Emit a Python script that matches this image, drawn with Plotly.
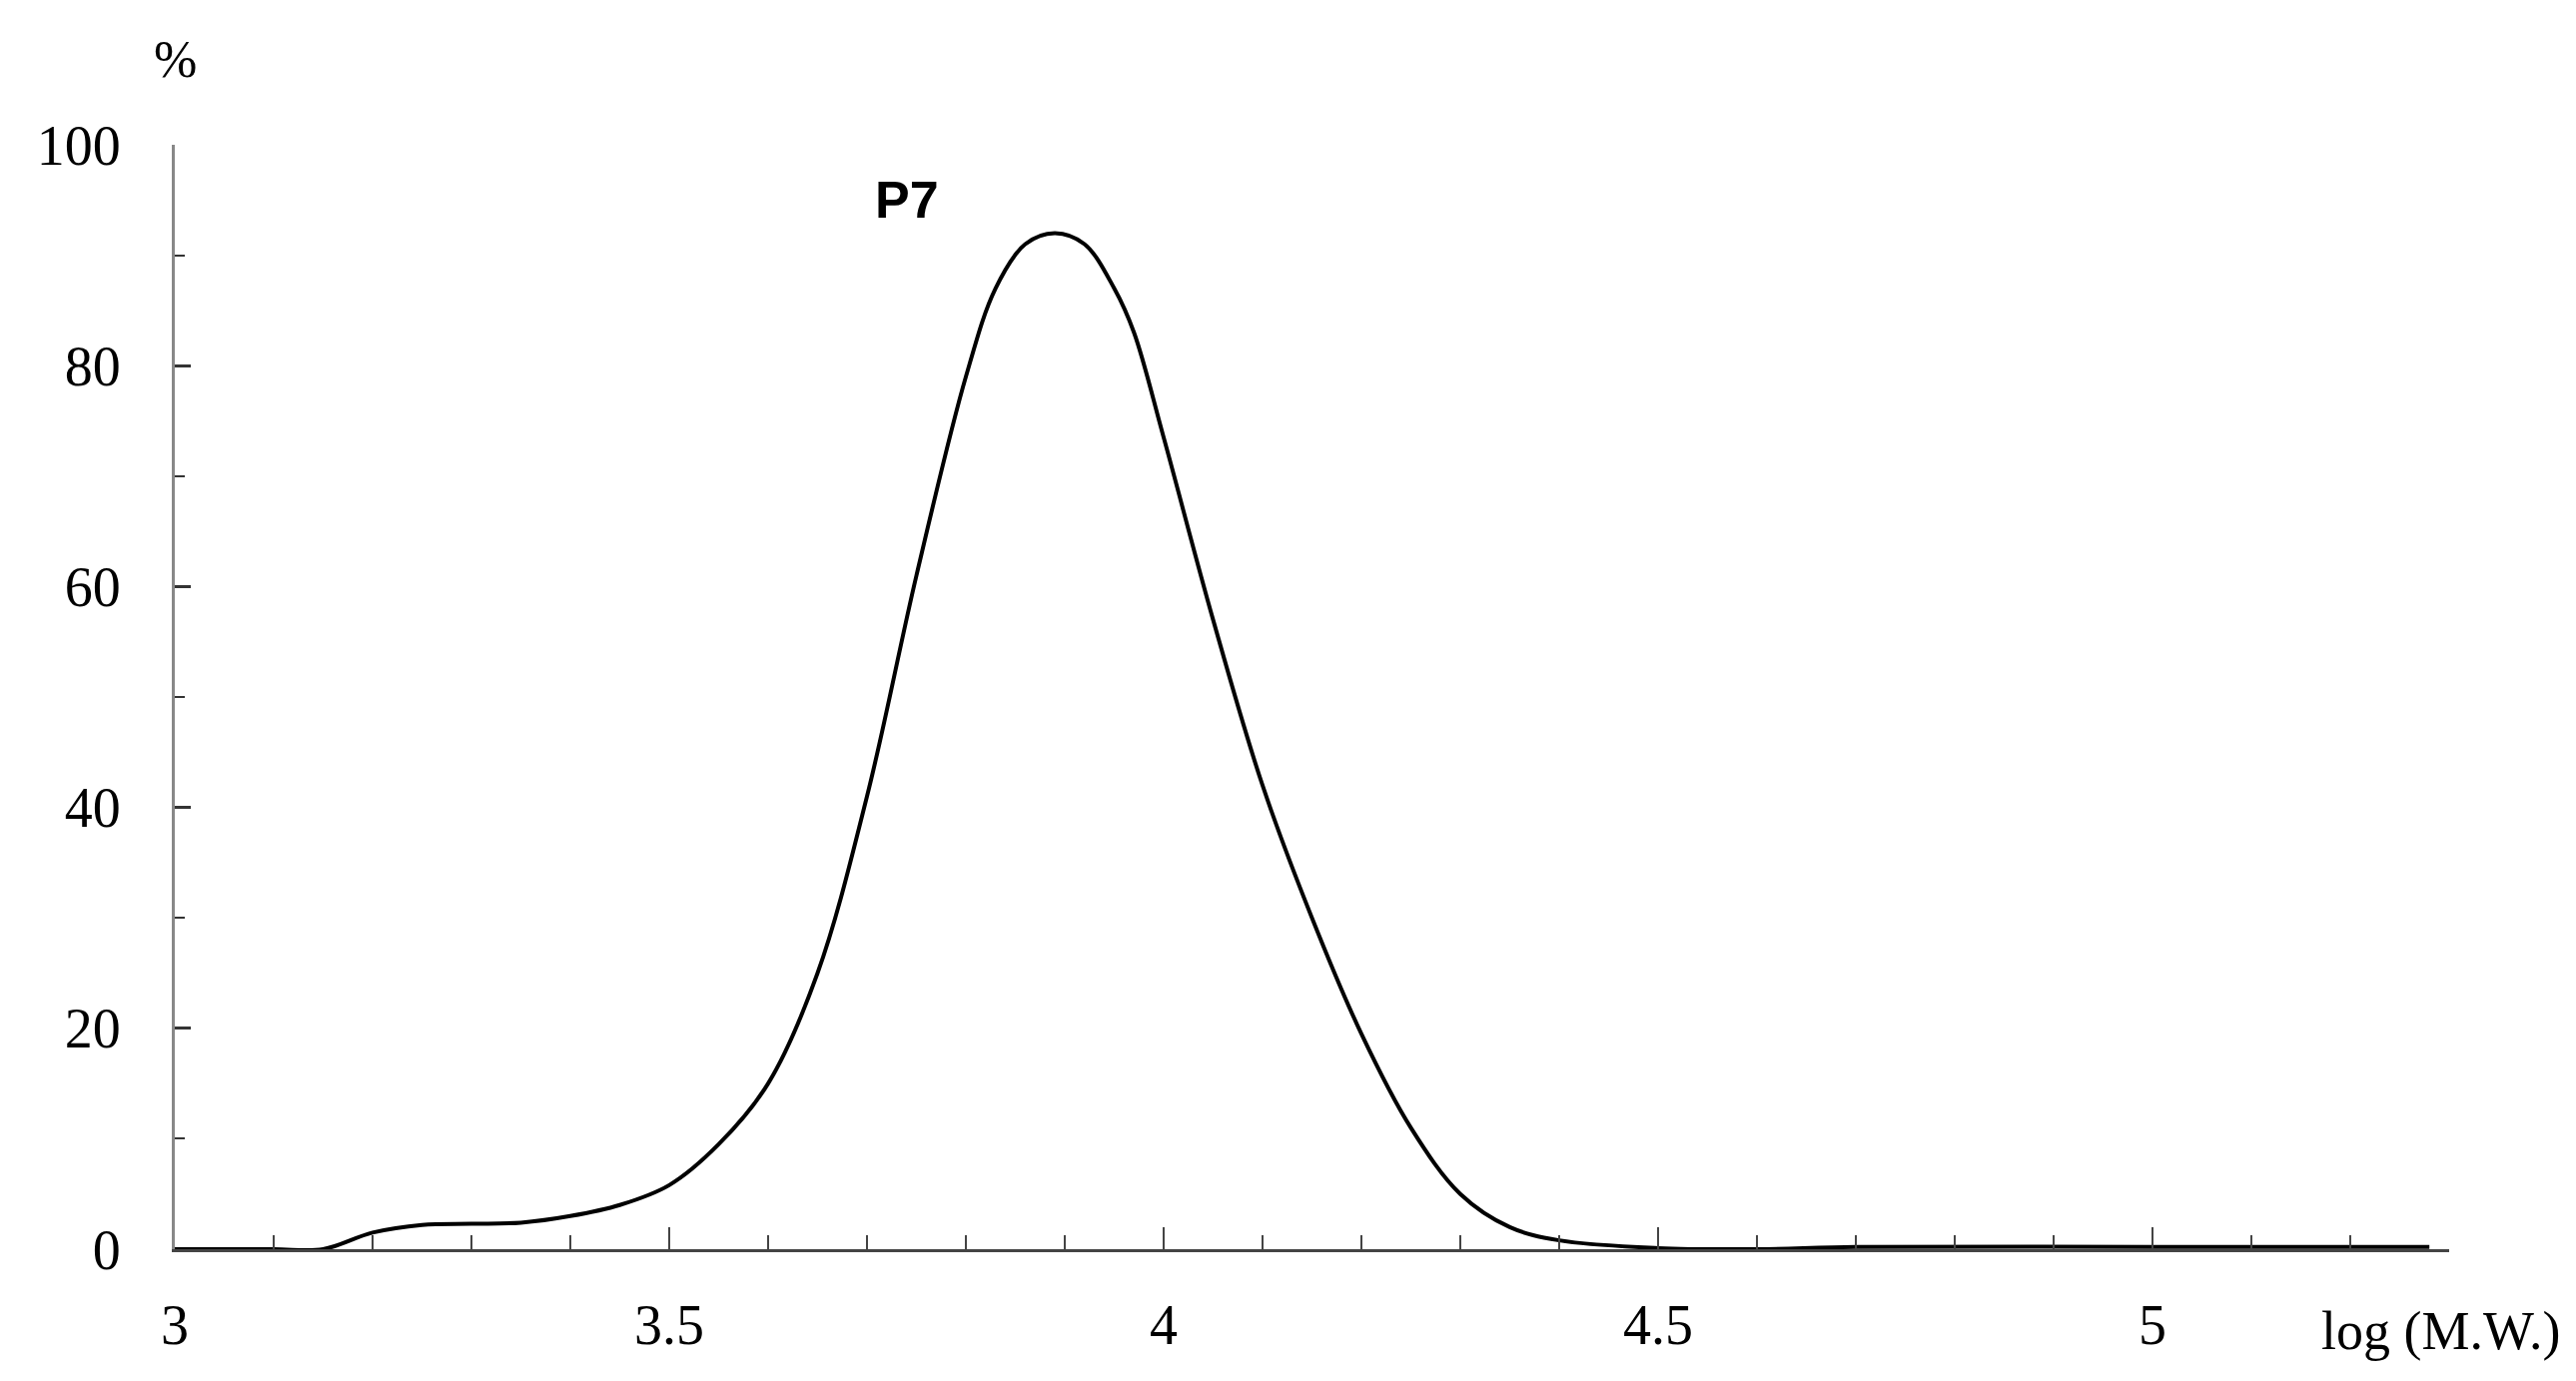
import plotly.graph_objects as go

# GPC molecular weight distribution, sample P7
log_mw = [3.0, 3.1, 3.15, 3.2, 3.25, 3.3, 3.35, 3.4, 3.45, 3.5, 3.55, 3.6, 3.65,
          3.7, 3.75, 3.8, 3.83, 3.86, 3.89, 3.92, 3.95, 3.97, 4.0, 4.05, 4.1, 4.15, 4.2,
          4.25, 4.3, 4.35, 4.4, 4.5, 4.6, 4.7, 5.0, 5.28]
pct = [0, 0, 0, 1.5, 2.2, 2.3, 2.4, 3.0, 4.0, 5.8, 9.5, 15, 25,
       41, 61, 79, 87, 91, 92, 91, 87, 83, 73.5, 57, 42, 30, 19.5,
       11, 5, 2, 0.8, 0.1, 0, 0.2, 0.2, 0.2]

FONT = "Liberation Serif"

fig = go.Figure()
fig.add_trace(go.Scatter(
    x=log_mw, y=pct, mode="lines",
    line=dict(color="black", width=4, shape="spline", smoothing=1.0),
    showlegend=False,
))

fig.add_annotation(x=3.74, y=95, text="<b>P7</b>", showarrow=False,
                   font=dict(family="Liberation Sans", size=52, color="black"))
fig.add_annotation(xref="paper", yref="paper", x=0.0, y=1.05, text="%",
                   showarrow=False, xanchor="center", yanchor="bottom",
                   font=dict(family=FONT, size=52, color="black"))
fig.add_annotation(xref="paper", yref="paper", x=1.05, y=-0.045, text="log (M.W.)",
                   showarrow=False, xanchor="right", yanchor="top",
                   font=dict(family=FONT, size=54, color="black"))

fig.update_layout(
    width=2579, height=1383,
    margin=dict(l=167, r=135, t=137, b=140),
    plot_bgcolor="white", paper_bgcolor="white",
    xaxis=dict(
        range=[3, 5.3], tickvals=[3, 3.5, 4, 4.5, 5], ticktext=["3", "3.5", "4", "4.5", "5"],
        showgrid=False, zeroline=False, showline=True, linecolor="#444", linewidth=3,
        ticks="inside", ticklen=22, tickwidth=2, tickcolor="#444",
        minor=dict(dtick=0.1, ticks="inside", ticklen=14, tickwidth=2, tickcolor="#444"),
        tickfont=dict(family=FONT, size=56, color="black"), ticklabelstandoff=25,
    ),
    yaxis=dict(
        range=[0, 100], dtick=20, showgrid=False, zeroline=False,
        showline=True, linecolor="#888", linewidth=3,
        ticks="inside", ticklen=16, tickwidth=3, tickcolor="#333",
        minor=dict(dtick=10, ticks="inside", ticklen=10, tickwidth=2, tickcolor="#333"),
        tickfont=dict(family=FONT, size=56, color="black"), ticklabelstandoff=40,
    ),
)

fig.write_html("out.html")
